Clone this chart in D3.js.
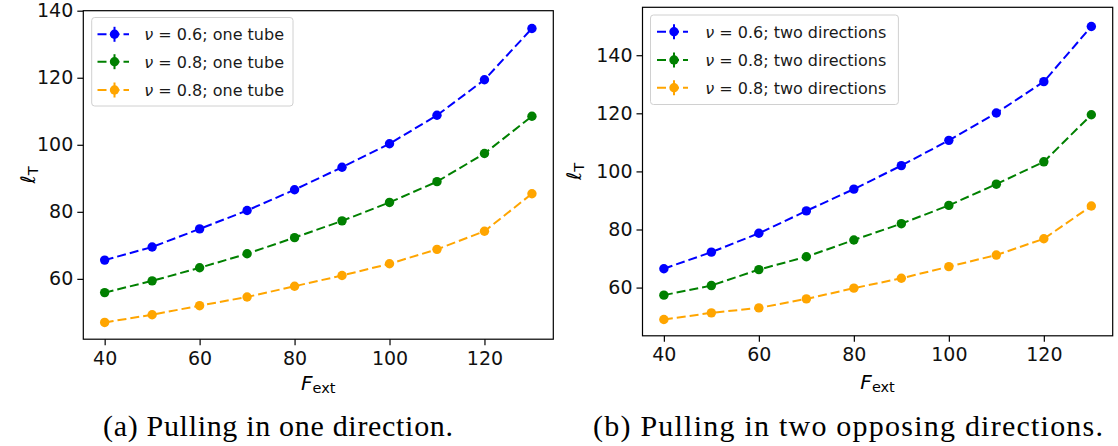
<!DOCTYPE html>
<html><head><meta charset="utf-8">
<script src="https://cdn.jsdelivr.net/npm/d3@7"></script>
<style>html,body{margin:0;padding:0;background:#fff;}svg{display:block;}</style>
</head><body>
<svg id="chart" width="1118" height="446"></svg>
<script>
const fext = [40, 50, 60, 70, 80, 90, 100, 110, 120, 130];
const xTicks = [40, 60, 80, 100, 120];
const yTicksLeft = [60, 80, 100, 120, 140];
const yTicksRight = [60, 80, 100, 120, 140];

const leftBlue   = [65.6, 69.5, 74.9, 80.4, 86.6, 93.3, 100.3, 108.8, 119.4, 134.7];
const leftGreen  = [55.9, 59.4, 63.3, 67.5, 72.3, 77.3, 82.8, 89.0, 97.4, 108.5];
const leftOrange = [47.0, 49.3, 52.0, 54.6, 57.8, 61.0, 64.5, 68.8, 74.2, 85.4];

const rightBlue   = [66.5, 72.2, 78.7, 86.4, 93.9, 102.0, 110.7, 120.1, 130.9, 149.9];
const rightGreen  = [57.4, 60.7, 66.2, 70.6, 76.4, 82.0, 88.3, 95.6, 103.3, 119.5];
const rightOrange = [49.0, 51.3, 53.0, 56.1, 59.8, 63.2, 67.2, 71.2, 76.8, 88.1];

const legendLeft  = ["0.6; one tube", "0.8; one tube", "0.8; one tube"];
const legendRight = ["0.6; two directions", "0.8; two directions", "0.8; two directions"];
const seriesColors = ["#0000ff", "#008000", "#ffa500"];

const captionA = "(a) Pulling in one direction.";
const captionB = "(b) Pulling in two opposing directions.";

const svg = d3.select("#chart");
const SANS = "DejaVu Sans, sans-serif";

function panel(cfg) {
  const x = d3.scaleLinear().domain([35.5, 134.5]).range([cfg.left, cfg.right]);
  const y = d3.scaleLinear().domain(cfg.ydom).range([cfg.bottom, cfg.top]);
  const g = svg.append("g");

  const xa = g.append("g").attr("transform", `translate(0,${cfg.bottom})`)
    .call(d3.axisBottom(x).tickValues(xTicks).tickSize(6).tickPadding(6).tickFormat(d3.format("d")));
  const ya = g.append("g").attr("transform", `translate(${cfg.left},0)`)
    .call(d3.axisLeft(y).tickValues(cfg.yticks).tickSize(6).tickPadding(4).tickFormat(d3.format("d")));
  [xa, ya].forEach(a => {
    a.select(".domain").remove();
    a.selectAll(".tick line").attr("stroke", "#000").attr("stroke-width", 1.2);
    a.selectAll(".tick text").attr("fill", "#111").style("font-family", SANS).style("font-size", "19px");
  });

  cfg.series.forEach((vals, i) => {
    const pts = fext.map((f, j) => [f, vals[j]]);
    const line = d3.line().x(d => x(d[0])).y(d => y(d[1]));
    g.append("path").attr("d", line(pts)).attr("fill", "none")
      .attr("stroke", seriesColors[i]).attr("stroke-width", 2).attr("stroke-dasharray", "9,4");
    g.selectAll(null).data(pts).enter().append("circle")
      .attr("cx", d => x(d[0])).attr("cy", d => y(d[1])).attr("r", 4.7)
      .attr("fill", seriesColors[i]);
  });

  g.append("rect").attr("x", cfg.left).attr("y", cfg.top)
    .attr("width", cfg.right - cfg.left).attr("height", cfg.bottom - cfg.top)
    .attr("fill", "none").attr("stroke", "#000").attr("stroke-width", 1.2);

  const L = cfg.legend;
  g.append("rect").attr("x", L.x0).attr("y", L.y0).attr("width", L.x1 - L.x0).attr("height", L.y1 - L.y0)
    .attr("rx", 3).attr("fill", "#fff").attr("fill-opacity", 0.85).attr("stroke", "#d0d0d0").attr("stroke-width", 1);
  cfg.labels.forEach((lab, i) => {
    const cy = L.rows[i];
    const c = seriesColors[i];
    g.append("line").attr("x1", L.h0).attr("x2", L.h1).attr("y1", cy).attr("y2", cy)
      .attr("stroke", c).attr("stroke-width", 2).attr("stroke-dasharray", "9,4");
    g.append("line").attr("x1", L.hm).attr("x2", L.hm).attr("y1", cy - 7.5).attr("y2", cy + 7.5)
      .attr("stroke", c).attr("stroke-width", 2);
    g.append("circle").attr("cx", L.hm).attr("cy", cy).attr("r", 4.7).attr("fill", c);
    const t = g.append("text").attr("x", L.tx).attr("y", cy + 6)
      .style("font-family", SANS).style("font-size", "16px").attr("fill", "#1a1a1a");
    t.append("tspan").style("font-style", "italic").text("ν");
    t.append("tspan").text(" = " + lab);
  });

  const xl = g.append("text").attr("x", (cfg.left + cfg.right) / 2).attr("y", cfg.xlabY)
    .attr("text-anchor", "middle").style("font-family", SANS).attr("fill", "#000");
  xl.append("tspan").style("font-style", "italic").style("font-size", "20px").text("F");
  xl.append("tspan").style("font-size", "14.5px").attr("dy", 3).text("ext");

  const yl = g.append("text").attr("transform", `translate(${cfg.ylabX},${(cfg.top + cfg.bottom) / 2}) rotate(-90)`)
    .attr("text-anchor", "middle").style("font-family", SANS).attr("fill", "#000");
  yl.append("tspan").style("font-style", "italic").style("font-size", "20px").text("ℓ");
  yl.append("tspan").style("font-size", "14.5px").attr("dy", 3).text("T");

  svg.append("text").attr("x", cfg.capX).attr("y", 436)
    .attr("textLength", cfg.capW).attr("lengthAdjust", "spacing")
    .style("font-family", "Liberation Serif, serif").style("font-size", "30px").attr("fill", "#000").text(cfg.caption);
}

panel({
  left: 83.3, right: 553.3, top: 10.7, bottom: 339.2, ydom: [42.0, 140], yticks: yTicksLeft,
  series: [leftBlue, leftGreen, leftOrange], labels: legendLeft,
  legend: {x0: 91.7, y0: 17.5, x1: 293, y1: 106, rows: [34.3, 61.7, 90], h0: 97.5, h1: 129, hm: 114.5, tx: 144.3},
  xlabY: 390, ylabX: 35, caption: captionA, capX: 103, capW: 350
});
panel({
  left: 642.5, right: 1112.7, top: 7.3, bottom: 335.8, ydom: [43.4, 156.5], yticks: yTicksRight,
  series: [rightBlue, rightGreen, rightOrange], labels: legendRight,
  legend: {x0: 650.5, y0: 15, x1: 898.4, y1: 104.5, rows: [31.7, 60, 87.7], h0: 657, h1: 688, hm: 674, tx: 705.2},
  xlabY: 389, ylabX: 581, caption: captionB, capX: 593, capW: 510
});
</script>
</body></html>
